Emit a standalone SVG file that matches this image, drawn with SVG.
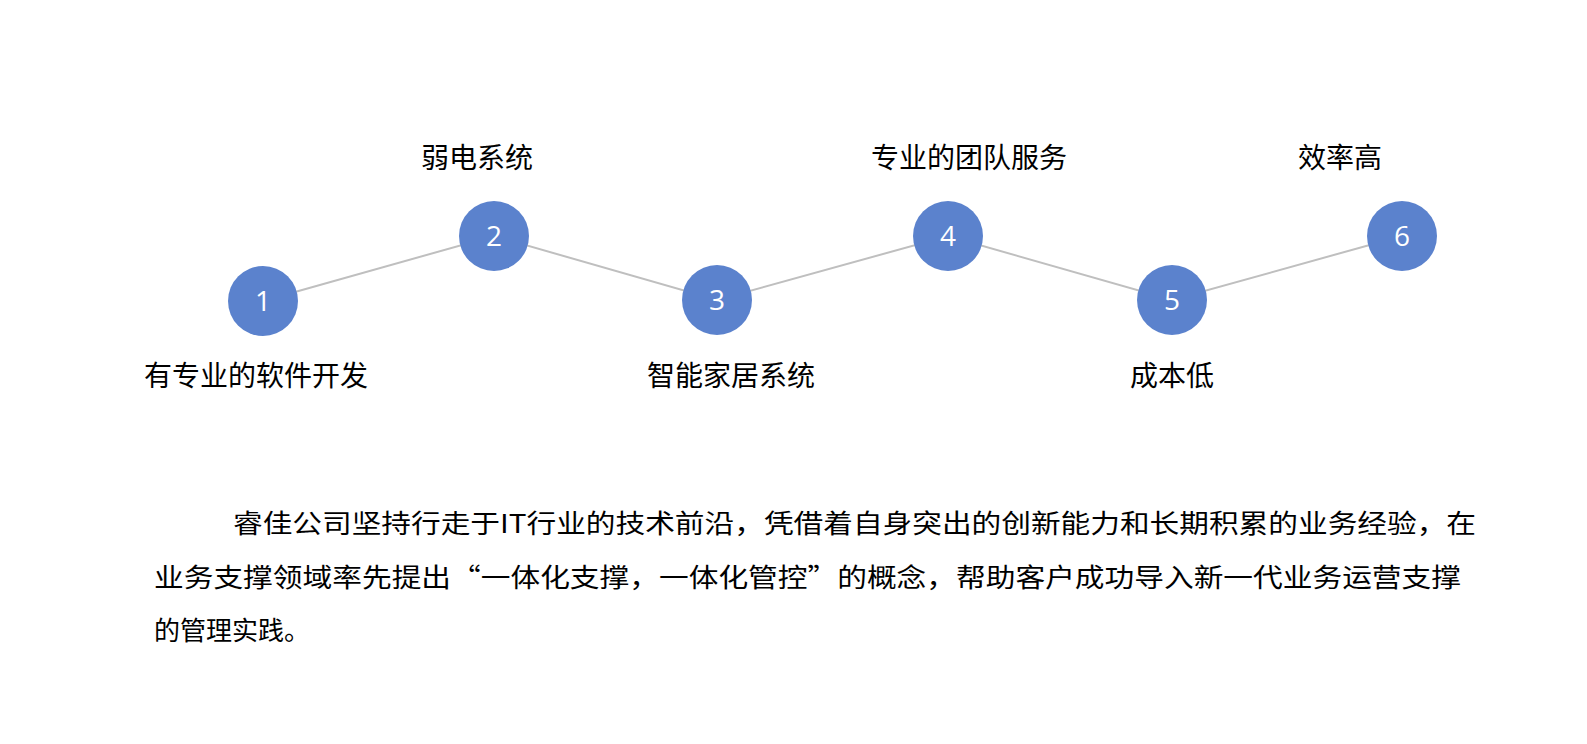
<svg xmlns="http://www.w3.org/2000/svg" width="1587" height="744" viewBox="0 0 1587 744">
<style>
.n{fill:#5B82CD}
.num{fill:#fff;font-family:"Open Sans","Noto Sans",sans-serif;font-size:28px;text-anchor:middle}
.lb{fill:#000;font-family:"Noto Sans CJK SC",sans-serif;font-size:28px;text-anchor:middle}
.p{fill:#000;font-family:"Noto Sans CJK SC",sans-serif;font-size:26px}
.c{stroke:#BFBFBF;stroke-width:2;fill:none}
</style>
<rect width="1587" height="744" fill="#fff"/>
<g id="connectors">
<polyline class="c" points="263,301 494,236 717,300 948,236 1172,300 1402,236"/>
</g>
<g id="node1"><circle class="n" cx="263" cy="301" r="35"/><text class="num" x="263" y="311">1</text><text class="lb" x="256" y="386">有专业的软件开发</text></g>
<g id="node2"><circle class="n" cx="494" cy="236" r="35"/><text class="num" x="494" y="246">2</text><text class="lb" x="477" y="168">弱电系统</text></g>
<g id="node3"><circle class="n" cx="717" cy="300" r="35"/><text class="num" x="717" y="310">3</text><text class="lb" x="731" y="386">智能家居系统</text></g>
<g id="node4"><circle class="n" cx="948" cy="236" r="35"/><text class="num" x="948" y="246">4</text><text class="lb" x="969" y="168">专业的团队服务</text></g>
<g id="node5"><circle class="n" cx="1172" cy="300" r="35"/><text class="num" x="1172" y="310">5</text><text class="lb" x="1172" y="386">成本低</text></g>
<g id="node6"><circle class="n" cx="1402" cy="236" r="35"/><text class="num" x="1402" y="246">6</text><text class="lb" x="1340" y="168">效率高</text></g>
<g id="para">
<text class="p" x="233" y="533" textLength="1243" lengthAdjust="spacingAndGlyphs">睿佳公司坚持行走于IT行业的技术前沿，凭借着自身突出的创新能力和长期积累的业务经验，在</text>
<text class="p" x="154" y="587" textLength="1307" lengthAdjust="spacingAndGlyphs">业务支撑领域率先提出“一体化支撑，一体化管控”的概念，帮助客户成功导入新一代业务运营支撑</text>
<text class="p" x="154" y="640">的管理实践。</text>
</g>
</svg>
